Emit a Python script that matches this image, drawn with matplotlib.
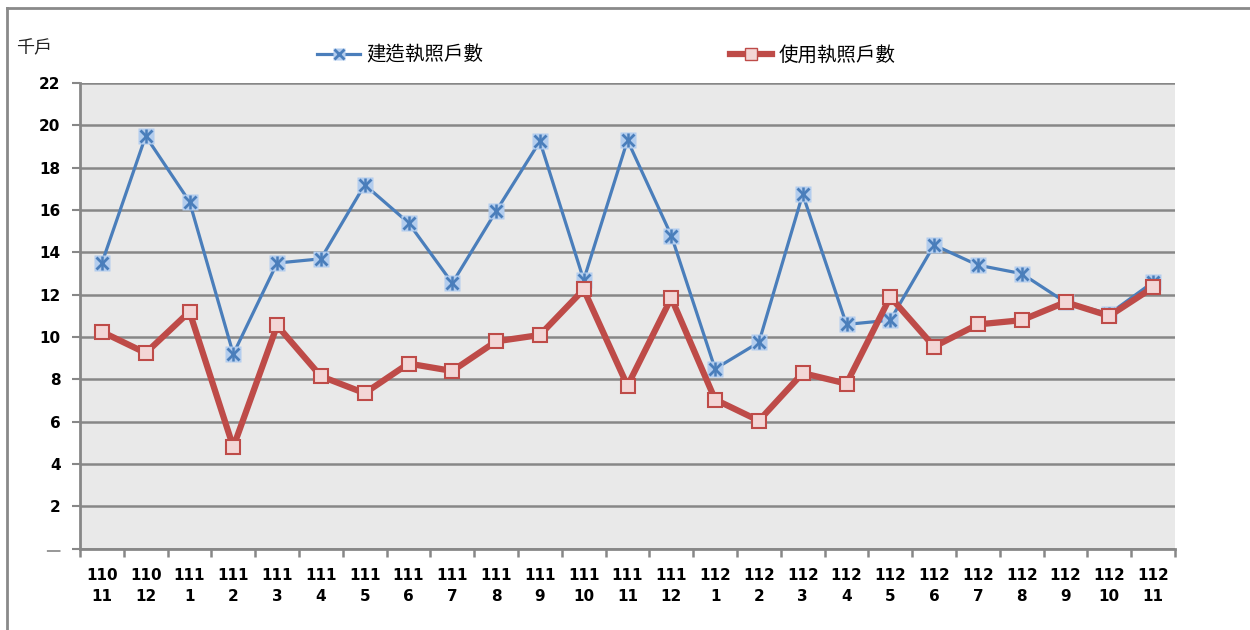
import matplotlib
matplotlib.use("Agg")
from matplotlib import pyplot as plt
from matplotlib.lines import Line2D
import numpy as np

plt.rcParams['font.family'] = ['Noto Sans CJK TC', 'DejaVu Sans']

years = ['110', '110'] + ['111'] * 12 + ['112'] * 11
months = ['11', '12'] + [str(m) for m in range(1, 13)] + [str(m) for m in range(1, 12)]

build_permits = [13.5, 19.5, 16.4, 9.2, 13.5, 13.7, 17.2, 15.4, 12.55, 15.95,
                 19.25, 12.7, 19.3, 14.8, 8.5, 9.75, 16.75, 10.6, 10.8, 14.35,
                 13.4, 13.0, 11.65, 11.1, 12.6]
use_permits = [10.25, 9.25, 11.2, 4.8, 10.55, 8.15, 7.35, 8.75, 8.4, 9.8,
               10.1, 12.25, 7.7, 11.85, 7.05, 6.05, 8.3, 7.8, 11.9, 9.55,
               10.6, 10.8, 11.65, 11.0, 12.35]

y_ticks = [0, 2, 4, 6, 8, 10, 12, 14, 16, 18, 20, 22]
y_labels = ['—'] + [str(v) for v in y_ticks[1:]]

blue = '#4a7ebb'
red = '#be4b48'

fig = plt.figure(figsize=(12.5, 6.3), dpi=100)
# outer frame: only top and left edges are visible in the original
fig.add_artist(Line2D([0.0056, 1.0], [0.987, 0.987], transform=fig.transFigure,
                      color='#8a8a8a', linewidth=2))
fig.add_artist(Line2D([0.0056, 0.0056], [0.0, 0.987], transform=fig.transFigure,
                      color='#8a8a8a', linewidth=2))

ax = fig.add_axes([0.064, 0.129, 0.876, 0.739])
ax.set_facecolor('#e9e9e9')

x = np.arange(len(months))

ax.plot(x, build_permits, color=blue, linewidth=2.3, zorder=3)
ax.plot(x, build_permits, linestyle='none', marker='s', markersize=11,
        markerfacecolor='#b3cdee', markeredgecolor='none', zorder=4)
ax.plot(x, build_permits, linestyle='none', marker='x', markersize=9,
        markeredgecolor=blue, markeredgewidth=2, zorder=5)
ax.plot(x, build_permits, linestyle='none', marker='|', markersize=10,
        markeredgecolor=blue, markeredgewidth=1.8, zorder=5)

ax.plot(x, use_permits, color=red, linewidth=4.5, zorder=6)
ax.plot(x, use_permits, linestyle='none', marker='s', markersize=10,
        markerfacecolor='#f3d6d6', markeredgecolor=red, markeredgewidth=1.5, zorder=7)

ax.set_xlim(-0.5, len(months) - 0.5)
ax.set_ylim(0, 22)
ax.set_yticks(y_ticks)
ax.set_yticklabels(y_labels, fontfamily='DejaVu Sans', fontweight='bold', fontsize=11)
ax.get_yticklabels()[0].set_color('#999999')
ax.yaxis.grid(True, color='#878787', linewidth=1.8)
ax.set_axisbelow(True)

ax.set_xticks(x)
ax.set_xticklabels([f'{a}\n{b}' for a, b in zip(years, months)],
                   fontfamily='DejaVu Sans', fontweight='bold', fontsize=11,
                   linespacing=1.5)
ax.tick_params(axis='x', length=0, pad=14)
ax.set_xticks(np.arange(-0.5, len(months)), minor=True)
ax.tick_params(axis='x', which='minor', length=6, width=1.8, color='#878787')
ax.tick_params(axis='y', length=6, width=1.5, color='#878787', pad=8)

for side in ['top', 'right']:
    ax.spines[side].set_visible(False)
for side in ['left', 'bottom']:
    ax.spines[side].set_color('#878787')
    ax.spines[side].set_linewidth(2)

fig.text(0.013, 0.915, '千戶', fontsize=13, color='#222222')

# legend proxies
h_sq = ax.plot([], [], color=blue, linewidth=2.3, marker='s', markersize=9,
               markerfacecolor='#b3cdee', markeredgecolor='none')[0]
h_x = ax.plot([], [], linestyle='none', marker='x', markersize=7,
              markeredgecolor=blue, markeredgewidth=2)[0]
h2 = ax.plot([], [], color=red, linewidth=4.5, marker='s', markersize=8,
             markerfacecolor='#f3d6d6', markeredgecolor=red)[0]
fig.legend([(h_sq, h_x)], ['建造執照戶數'], loc='center', bbox_to_anchor=(0.32, 0.913),
           frameon=False, fontsize=14, handlelength=2.2, handletextpad=0.3)
fig.legend([h2], ['使用執照戶數'], loc='center', bbox_to_anchor=(0.65, 0.913),
           frameon=False, fontsize=14, handlelength=2.2, handletextpad=0.3)

fig.savefig('out.png', dpi=100)
